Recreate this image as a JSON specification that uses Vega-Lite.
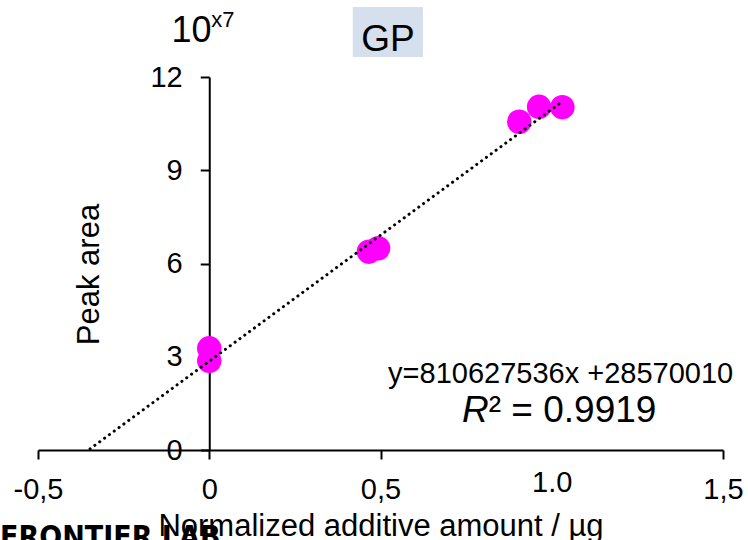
{
  "$schema": "https://vega.github.io/schema/vega-lite/v6.json",
  "width": 685,
  "height": 373,
  "autosize": {"type": "none"},
  "padding": {"left": 38, "top": 77, "right": 25, "bottom": 90},
  "background": "white",
  "config": {
    "view": {"stroke": null},
    "font": "Liberation Sans",
    "axis": {
      "domainColor": "black", "domainWidth": 2,
      "tickColor": "black", "tickWidth": 2, "tickSize": 9,
      "labelColor": "black", "labelFont": "Liberation Sans", "labelFontSize": 29,
      "titleFont": "Liberation Sans", "titleFontSize": 31, "titleColor": "black", "titleFontWeight": "normal",
      "grid": false
    }
  },
  "datasets": {
    "points": [
      {"amount": 0.0, "area": 3.27},
      {"amount": 0.0, "area": 2.87},
      {"amount": 0.466, "area": 6.38},
      {"amount": 0.493, "area": 6.49},
      {"amount": 0.905, "area": 10.56},
      {"amount": 0.963, "area": 11.04},
      {"amount": 1.031, "area": 11.03}
    ],
    "trend": [
      {"amount": -0.348, "area": 0.036},
      {"amount": 1.027, "area": 11.18}
    ],
    "one": [{"id": 1}]
  },
  "layer": [
    {
      "data": {"name": "one"},
      "mark": {"type": "rect", "color": "#d5dfee"},
      "encoding": {
        "x": {"datum": 0.419, "type": "quantitative", "scale": {"domain": [-0.5, 1.5], "nice": false, "zero": false}},
        "x2": {"datum": 0.624},
        "y": {"datum": 14.25, "type": "quantitative", "scale": {"domain": [0, 12], "nice": false}},
        "y2": {"datum": 12.64}
      }
    },
    {
      "data": {"name": "one"},
      "mark": {"type": "text", "text": "GP", "fontSize": 37, "align": "center", "baseline": "alphabetic", "color": "black"},
      "encoding": {
        "x": {"datum": 0.522, "type": "quantitative", "scale": {"domain": [-0.5, 1.5], "nice": false, "zero": false}},
        "y": {"datum": 12.85, "type": "quantitative", "scale": {"domain": [0, 12], "nice": false}}
      }
    },
    {
      "data": {"name": "one"},
      "mark": {"type": "text", "text": "10", "fontSize": 36, "align": "left", "baseline": "alphabetic", "color": "black"},
      "encoding": {
        "x": {"datum": -0.11, "type": "quantitative", "scale": {"domain": [-0.5, 1.5], "nice": false, "zero": false}},
        "y": {"datum": 13.126, "type": "quantitative", "scale": {"domain": [0, 12], "nice": false}}
      }
    },
    {
      "data": {"name": "one"},
      "mark": {"type": "text", "text": "x7", "fontSize": 22, "align": "left", "baseline": "alphabetic", "color": "black"},
      "encoding": {
        "x": {"datum": 0.006, "type": "quantitative", "scale": {"domain": [-0.5, 1.5], "nice": false, "zero": false}},
        "y": {"datum": 13.61, "type": "quantitative", "scale": {"domain": [0, 12], "nice": false}}
      }
    },
    {
      "data": {"name": "one"},
      "mark": {"type": "text", "text": "y=810627536x +28570010", "fontSize": 29, "align": "center", "baseline": "alphabetic", "color": "black"},
      "encoding": {
        "x": {"datum": 1.026, "type": "quantitative", "scale": {"domain": [-0.5, 1.5], "nice": false, "zero": false}},
        "y": {"datum": 2.156, "type": "quantitative", "scale": {"domain": [0, 12], "nice": false}}
      }
    },
    {
      "data": {"name": "one"},
      "mark": {"type": "text", "text": "R", "fontSize": 37, "fontStyle": "italic", "align": "right", "baseline": "alphabetic", "color": "black"},
      "encoding": {
        "x": {"datum": 0.816, "type": "quantitative", "scale": {"domain": [-0.5, 1.5], "nice": false, "zero": false}},
        "y": {"datum": 0.911, "type": "quantitative", "scale": {"domain": [0, 12], "nice": false}}
      }
    },
    {
      "data": {"name": "one"},
      "mark": {"type": "text", "text": "² = 0.9919", "fontSize": 37, "align": "left", "baseline": "alphabetic", "color": "black"},
      "encoding": {
        "x": {"datum": 0.816, "type": "quantitative", "scale": {"domain": [-0.5, 1.5], "nice": false, "zero": false}},
        "y": {"datum": 0.911, "type": "quantitative", "scale": {"domain": [0, 12], "nice": false}}
      }
    },
    {
      "data": {"name": "points"},
      "mark": {"type": "circle", "size": 600, "color": "#ff00ff", "opacity": 1},
      "encoding": {
        "x": {
          "field": "amount", "type": "quantitative",
          "scale": {"domain": [-0.5, 1.5], "nice": false, "zero": false},
          "axis": {
            "title": "Normalized additive amount / µg",
            "values": [-0.5, 0, 0.5, 1, 1.5],
            "labelExpr": "datum.value == -0.5 ? '-0,5' : datum.value == 0 ? '0' : datum.value == 0.5 ? '0,5' : datum.value == 1 ? '1.0' : '1,5'",
            "labelBaseline": "top",
            "labelPadding": {"condition": {"test": "datum.value == 1", "value": 9}, "value": 16},
            "tickOpacity": {"condition": {"test": "datum.value == 1", "value": 0}, "value": 1},
            "labelFlush": false,
            "labelOverlap": false,
            "titleY": 85,
            "titleBaseline": "alphabetic"
          }
        },
        "y": {
          "field": "area", "type": "quantitative",
          "scale": {"domain": [0, 12], "nice": false},
          "axis": {
            "title": "Peak area",
            "values": [0, 3, 6, 9, 12],
            "offset": -171.25,
            "labelPadding": 18,
            "labelBaseline": "middle",
            "titleFontSize": 31,
            "titleAngle": 270,
            "titleX": -111,
            "titleY": 197,
            "titleAlign": "center",
            "titleBaseline": "alphabetic"
          }
        }
      }
    },
    {
      "data": {"name": "trend"},
      "mark": {"type": "line", "color": "black", "strokeWidth": 3, "strokeDash": [0.1, 5.9], "strokeCap": "round"},
      "encoding": {
        "x": {"field": "amount", "type": "quantitative", "scale": {"domain": [-0.5, 1.5], "nice": false, "zero": false}},
        "y": {"field": "area", "type": "quantitative", "scale": {"domain": [0, 12], "nice": false}}
      }
    },
    {
      "data": {"name": "one"},
      "mark": {"type": "text", "text": "FRONTIER LAB", "font": "'DejaVu Sans Condensed', 'Liberation Sans', sans-serif", "fontWeight": "bold", "fontSize": 30, "align": "left", "baseline": "top", "color": "black"},
      "encoding": {
        "x": {"datum": -0.611, "type": "quantitative", "scale": {"domain": [-0.5, 1.5], "nice": false, "zero": false}},
        "y": {"datum": -2.35, "type": "quantitative", "scale": {"domain": [0, 12], "nice": false}}
      }
    }
  ]
}
